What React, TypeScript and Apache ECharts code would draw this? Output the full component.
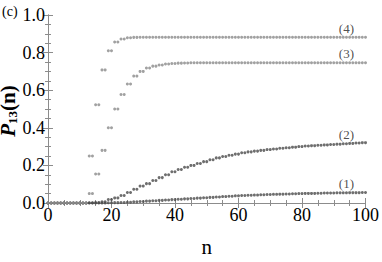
import React, { useEffect, useRef } from "react";
import * as echarts from "echarts";

// Values. Points come in pairs: index 0 is n = 0,
// index k >= 1 holds the common value of n = 2k-1 and n = 2k.
const curve4 = [
  0, 0, 0, 0, 0, 0, 0, 0.25, 0.523, 0.708, 0.81, 0.856, 0.872, 0.879, 0.881,
  0.882, 0.882, 0.882, 0.882, 0.882, 0.882, 0.882, 0.882, 0.882, 0.882, 0.882,
  0.882, 0.882, 0.882, 0.882, 0.882, 0.882, 0.882, 0.882, 0.882, 0.882, 0.882,
  0.882, 0.882, 0.882, 0.882, 0.882, 0.882, 0.882, 0.882, 0.882, 0.882, 0.882,
  0.882, 0.882, 0.882,
];
const curve3 = [
  0, 0, 0, 0, 0, 0, 0, 0.05, 0.154, 0.28, 0.4, 0.5, 0.577, 0.633, 0.675, 0.7,
  0.718, 0.728, 0.734, 0.739, 0.742, 0.744, 0.745, 0.746, 0.746, 0.746, 0.746,
  0.746, 0.746, 0.746, 0.746, 0.746, 0.746, 0.746, 0.746, 0.746, 0.746, 0.746,
  0.746, 0.746, 0.746, 0.746, 0.746, 0.746, 0.746, 0.746, 0.746, 0.746, 0.746,
  0.746, 0.746,
];
const curve2 = [
  0, 0, 0, 0, 0, 0, 0, 0.001, 0.003, 0.007, 0.019, 0.027, 0.04, 0.056, 0.073,
  0.09, 0.103, 0.12, 0.135, 0.15, 0.166, 0.178, 0.19, 0.2, 0.21, 0.22, 0.23,
  0.24, 0.247, 0.254, 0.26, 0.267, 0.272, 0.276, 0.28, 0.284, 0.287, 0.291,
  0.294, 0.297, 0.3, 0.303, 0.305, 0.307, 0.309, 0.311, 0.313, 0.315, 0.317,
  0.319, 0.321,
];
const curve1 = [
  0, 0, 0, 0, 0, 0, 0, 0, 0, 0, 0.001, 0.002, 0.003, 0.004, 0.006, 0.008, 0.01,
  0.012, 0.014, 0.016, 0.018, 0.02, 0.022, 0.024, 0.026, 0.028, 0.03, 0.032,
  0.034, 0.036, 0.038, 0.04, 0.041, 0.042, 0.044, 0.045, 0.046, 0.047, 0.048,
  0.049, 0.05, 0.051, 0.051, 0.052, 0.053, 0.053, 0.054, 0.054, 0.055, 0.055,
  0.056,
];
const curveNames = ["(1)", "(2)", "(3)", "(4)"];
const xTicks = [0, 20, 40, 60, 80, 100];
const yTicks = [0, 0.2, 0.4, 0.6, 0.8, 1.0];

const SERIF = "Liberation Serif";

function expand(pairs: number[]): [number, number][] {
  const out: [number, number][] = [[0, pairs[0]]];
  for (let k = 1; k < pairs.length; k++) {
    out.push([2 * k - 1, pairs[k]]);
    out.push([2 * k, pairs[k]]);
  }
  return out;
}

export default function App() {
  const ref = useRef<HTMLDivElement>(null);
  useEffect(() => {
    if (!ref.current) return;
    const chart = echarts.init(ref.current, null, { renderer: "svg" });
    const labelN = 94;
    const mk = (pairs: number[], name: string, color: string) => ({
      type: "scatter",
      name,
      xAxisIndex: 0,
      yAxisIndex: 0,
      symbol: "circle",
      symbolSize: 3,
      itemStyle: { color },
      z: 5,
      data: expand(pairs).map(([n, v]) =>
        n === labelN
          ? {
              value: [n, v],
              label: {
                show: true,
                formatter: name,
                position: "top",
                distance: 1,
                fontFamily: SERIF,
                fontSize: 13,
                color: "#222",
              },
            }
          : [n, v]
      ),
    });
    const axisColor = "#8c8c8c";
    const tickText = { fontFamily: SERIF, fontSize: 18, color: "#000" };
    const xBase = {
      type: "value",
      min: xTicks[0],
      max: xTicks[xTicks.length - 1],
      interval: 20,
      splitLine: { show: false },
      axisLine: { show: true, lineStyle: { color: axisColor, width: 1 } },
      axisTick: { show: true, inside: true, length: 5, lineStyle: { color: axisColor } },
      minorTick: { show: true, splitNumber: 4, length: 3, lineStyle: { color: axisColor } },
    };
    const yBase = {
      type: "value",
      min: yTicks[0],
      max: yTicks[yTicks.length - 1],
      interval: 0.2,
      splitLine: { show: false },
      axisLine: { show: true, lineStyle: { color: axisColor, width: 1 } },
      axisTick: { show: true, inside: true, length: 5, lineStyle: { color: axisColor } },
      minorTick: { show: true, splitNumber: 4, length: 3, lineStyle: { color: axisColor } },
    };
    chart.setOption({
      animation: false,
      textStyle: { fontFamily: SERIF },
      grid: { left: 48, right: 16, top: 15, bottom: 50, containLabel: false },
      xAxis: [
        {
          ...xBase,
          position: "bottom",
          name: "n",
          nameLocation: "middle",
          nameGap: 33,
          nameTextStyle: { fontFamily: SERIF, fontSize: 21, color: "#000" },
          axisLabel: { ...tickText, margin: 3 },
        },
        { ...xBase, position: "top", axisLabel: { show: false } },
      ],
      yAxis: [
        {
          ...yBase,
          position: "left",
          axisLabel: {
            ...tickText,
            margin: 3,
            formatter: (v: number) => v.toFixed(1),
          },
        },
        { ...yBase, position: "right", axisLabel: { show: false } },
      ],
      graphic: [
        {
          type: "text",
          left: 2,
          top: 4,
          style: { text: "(c)", fontFamily: SERIF, fontSize: 14, fill: "#000" },
        },
        {
          type: "text",
          x: 8,
          y: 111,
          rotation: Math.PI / 2,
          style: {
            text: "{i|P}{s|13}{r|(n)}",
            align: "center",
            verticalAlign: "middle",
            rich: {
              i: { fontFamily: SERIF, fontSize: 21, fontStyle: "italic", fontWeight: "bold", fill: "#000", lineHeight: 22 },
              s: { fontFamily: SERIF, fontSize: 13, fontWeight: "bold", fill: "#000", verticalAlign: "bottom", lineHeight: 22 },
              r: { fontFamily: SERIF, fontSize: 21, fontWeight: "bold", fill: "#000", lineHeight: 22 },
            },
          },
        },
      ],
      series: [
        mk(curve1, curveNames[0], "#4a4a4a"),
        mk(curve2, curveNames[1], "#4a4a4a"),
        mk(curve3, curveNames[2], "#8a8a8a"),
        mk(curve4, curveNames[3], "#8a8a8a"),
      ],
    });
    return () => chart.dispose();
  }, []);
  return (
    <div
      ref={ref}
      style={{ position: "fixed", left: 0, top: 0, width: 382, height: 262, background: "#fff" }}
    />
  );
}
